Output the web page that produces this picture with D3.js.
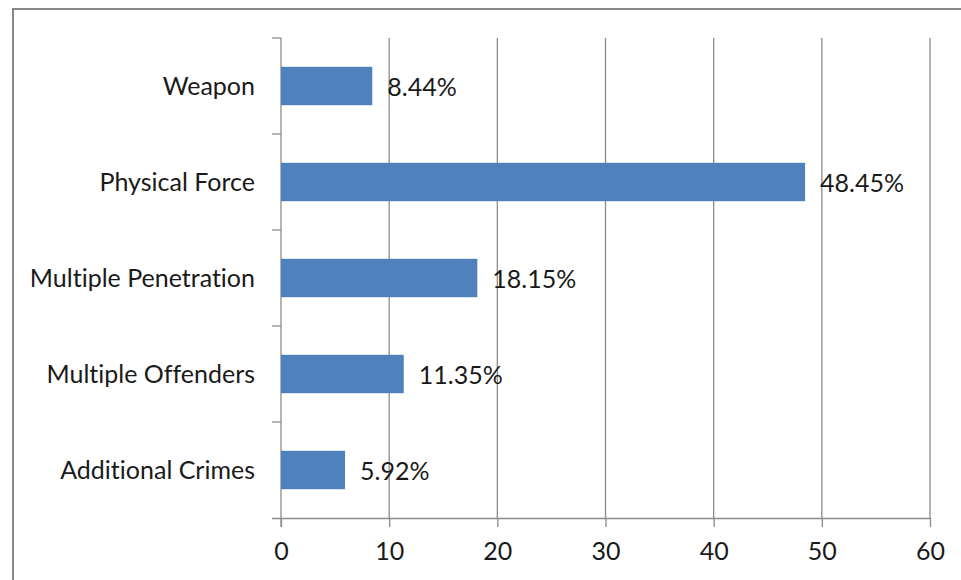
<!DOCTYPE html>
<html>
<head>
<meta charset="utf-8">
<script src="https://cdn.jsdelivr.net/npm/d3@7"></script>
<style>
  html, body { margin: 0; padding: 0; background: #fff; }
  svg { display: block; }
  text { font-family: Lato, "Open Sans", sans-serif; fill: #1a1a1a; font-variant-ligatures: none; }
</style>
</head>
<body>
<svg id="chart" width="961" height="580"></svg>
<script>
// Categories, top to bottom
const categories = ["Weapon", "Physical Force", "Multiple Penetration", "Multiple Offenders", "Additional Crimes"];
// Percentage for each category
const values = [8.44, 48.45, 18.15, 11.35, 5.92];
// Value axis ticks
const xTicks = [0, 10, 20, 30, 40, 50, 60];

const svg = d3.select("#chart");
const W = 961, H = 580;
const plot = { left: 281, right: 930, top: 38, bottom: 518 };
const fontSize = "25px";

// Outer frame
svg.append("rect")
  .attr("x", 13).attr("y", 9)
  .attr("width", W + 10).attr("height", H + 10)
  .attr("fill", "none")
  .attr("stroke", "#888")
  .attr("stroke-width", 2);

const x = d3.scaleLinear().domain([0, 60]).range([plot.left, plot.right]);
const y = d3.scaleBand().domain(categories).range([plot.top, plot.bottom]).paddingInner(0.6).paddingOuter(0.3);

// Vertical gridlines
svg.append("g")
  .selectAll("line")
  .data(xTicks.slice(1))
  .join("line")
  .attr("x1", d => x(d)).attr("x2", d => x(d))
  .attr("y1", plot.top).attr("y2", plot.bottom)
  .attr("stroke", "#8c8c8c")
  .attr("stroke-width", 1.3);

// Bottom value axis
const xAxis = svg.append("g")
  .attr("transform", `translate(0,${plot.bottom})`)
  .call(d3.axisBottom(x).tickValues(xTicks).tickSize(9).tickPadding(15).tickSizeOuter(0));
xAxis.select(".domain").attr("stroke", "#8c8c8c").attr("stroke-width", 1.3)
  .attr("d", `M${plot.left - 9},0.5H${plot.right}`);
xAxis.selectAll(".tick line").attr("stroke", "#8c8c8c").attr("stroke-width", 1.3);
xAxis.selectAll(".tick text")
  .style("font-size", fontSize)
  .style("font-family", "Lato, 'Open Sans', sans-serif")
  .attr("fill", "#1a1a1a");

// Left category axis with ticks at band boundaries
const yAxisG = svg.append("g");
yAxisG.append("line")
  .attr("x1", plot.left).attr("x2", plot.left)
  .attr("y1", plot.top).attr("y2", plot.bottom + 9)
  .attr("stroke", "#8c8c8c").attr("stroke-width", 1.3);
const step = (plot.bottom - plot.top) / categories.length;
yAxisG.selectAll("line.bt")
  .data(d3.range(categories.length))
  .join("line")
  .attr("class", "bt")
  .attr("x1", plot.left - 9).attr("x2", plot.left)
  .attr("y1", i => plot.top + i * step).attr("y2", i => plot.top + i * step)
  .attr("stroke", "#8c8c8c").attr("stroke-width", 1.3);
yAxisG.selectAll("text")
  .data(categories)
  .join("text")
  .attr("x", plot.left - 26)
  .attr("y", d => y(d) + y.bandwidth() / 2)
  .attr("dy", "0.35em")
  .attr("text-anchor", "end")
  .style("font-size", fontSize)
  .text(d => d);

// Bars
svg.append("g")
  .selectAll("rect")
  .data(categories)
  .join("rect")
  .attr("x", x(0))
  .attr("y", d => y(d))
  .attr("width", (d, i) => x(values[i]) - x(0))
  .attr("height", y.bandwidth())
  .attr("fill", "#4f81bd");

// Value labels
svg.append("g")
  .selectAll("text")
  .data(categories)
  .join("text")
  .attr("x", (d, i) => x(values[i]) + 15)
  .attr("y", d => y(d) + y.bandwidth() / 2 + 1)
  .attr("dy", "0.35em")
  .style("font-size", fontSize)
  .text((d, i) => values[i].toFixed(2) + "%");
</script>
</body>
</html>
